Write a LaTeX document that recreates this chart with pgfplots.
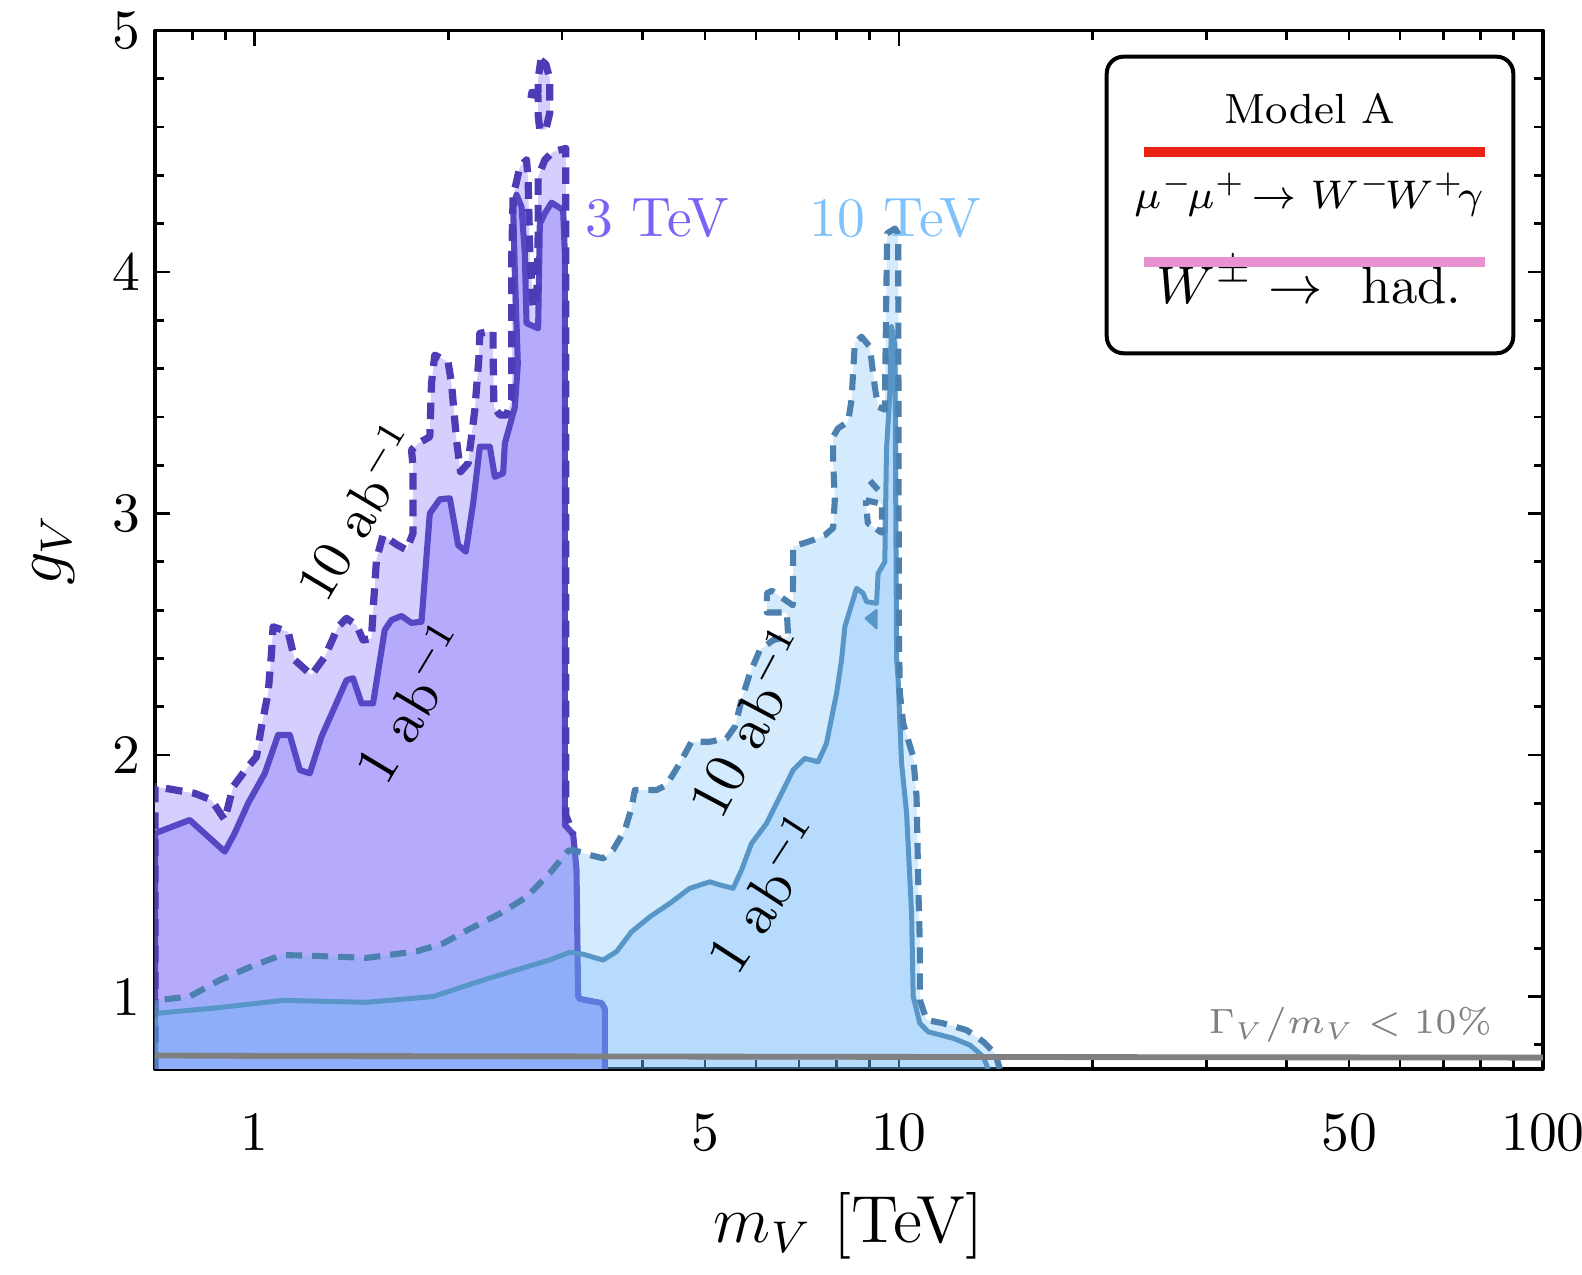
\RequirePackage{fix-cm}
\documentclass[border=0pt]{standalone}
\usepackage{pgfplots}
\pgfplotsset{compat=1.18}
\definecolor{purpfillL}{RGB}{214,207,253}
\definecolor{purpfillD}{RGB}{182,170,252}
\definecolor{purpline}{RGB}{86,72,196}
\definecolor{purpdash}{RGB}{76,60,182}
\definecolor{bluefill}{RGB}{102,180,248}
\definecolor{blueline}{RGB}{88,150,200}
\definecolor{bluedash}{RGB}{76,128,174}
\definecolor{tevpurple}{RGB}{120,100,245}
\definecolor{tevblue}{RGB}{128,195,252}
\definecolor{legred}{RGB}{235,35,20}
\definecolor{legpink}{RGB}{232,146,210}
\definecolor{greyline}{RGB}{128,128,128}
\begin{document}
\begin{tikzpicture}
\begin{axis}[
  scale only axis, width=249.84pt, height=186.93pt,
  xmode=log, xmin=0.7, xmax=100, ymin=0.7, ymax=5,
  xtick={1,10,100}, xticklabels={1,10,100},
  extra x ticks={5,50}, extra x tick labels={5,50},
  extra x tick style={major tick length=1.7pt},
  minor xtick={0.8,0.9,2,3,4,6,7,8,9,20,30,40,60,70,80,90},
  ytick={1,2,3,4,5}, yticklabels={1,2,3,4,5},
  minor ytick={0.8,1.2,1.4,1.6,1.8,2.2,2.4,2.6,2.8,3.2,3.4,3.6,3.8,4.2,4.4,4.6,4.8},
  tick align=inside,
  major tick length=2.7pt, minor tick length=1.7pt,
  every tick/.style={black, line width=0.5pt},
  axis line style={line width=0.6pt},
  tick label style={font=\fontsize{10}{12}\selectfont},
  xticklabel style={yshift=-4.5pt},
  yticklabel style={xshift=0.8pt},
  xlabel={$m_V$ [TeV]}, ylabel={$g_V$},
  xlabel style={at={(axis description cs:0.5,-0.151)}, anchor=center, font=\fontsize{12}{14}\selectfont},
  ylabel style={at={(axis description cs:-0.073,0.5)}, anchor=center, font=\fontsize{12}{14}\selectfont},
  line join=round,
]
\coordinate (SW) at (rel axis cs:0,0);
% ---- 3 TeV, 10 ab^-1 fill
\addplot[fill=purpfillL, draw=none] coordinates {
(0.7,0.7) (0.7,1.869) (0.7424,1.858) (0.8069,1.841) (0.8566,1.814) (0.8982,1.731) (0.9254,1.869) (0.9763,1.952) (1.0061,1.993) (1.0242,2.117) (1.0487,2.256) (1.0615,2.421) (1.0676,2.531) (1.1266,2.51) (1.1539,2.393) (1.2245,2.331) (1.2846,2.407) (1.3470,2.531) (1.3880,2.566) (1.4385,2.538) (1.4729,2.476) (1.5177,2.483) (1.5264,2.6) (1.5451,2.81) (1.5818,2.91) (1.6597,2.872) (1.7200,2.849) (1.7611,2.918) (1.7611,3.194) (1.7510,3.263) (1.7929,3.29) (1.8697,3.318) (1.8811,3.539) (1.9034,3.656) (1.9960,3.628) (2.0203,3.539) (2.0568,3.304) (2.0865,3.173) (2.1439,3.208) (2.1960,3.429) (2.2277,3.642) (2.2357,3.746) (2.3445,3.757) (2.3445,3.677) (2.3504,3.442) (2.4011,3.408) (2.4595,3.408) (2.5065,3.471) (2.5065,3.815) (2.5065,4.077) (2.5182,4.312) (2.5792,4.436) (2.6417,4.464) (2.6569,4.381) (2.6731,4.077) (2.7048,3.856) (2.7379,3.856) (2.7537,4.146) (2.7537,4.395) (2.8205,4.464) (2.9054,4.498) (3.0404,4.512) (3.0404,4.0) (3.0404,1.75) (3.1210,1.673) (3.1585,1.528) (3.1767,1.0) (3.1960,0.99) (3.4540,0.973) (3.4951,0.95) (3.4951,0.7)
} -- cycle;
\addplot[fill=purpfillL, draw=none] coordinates {
(2.7808,4.877) (2.8306,4.86) (2.8713,4.80) (2.8713,4.66) (2.8306,4.59) (2.7705,4.588) (2.7537,4.65) (2.7537,4.80)
} -- cycle;
% ---- 3 TeV, 1 ab^-1 fill
\addplot[fill=purpfillD, draw=none] coordinates {
(0.7,0.7) (0.7,1.676) (0.7926,1.731) (0.8982,1.600) (0.9310,1.677) (0.9763,1.80) (1.0364,1.924) (1.0869,2.083) (1.1334,2.083) (1.1746,1.938) (1.2173,1.924) (1.2693,2.076) (1.3311,2.2) (1.3880,2.31) (1.4211,2.318) (1.4645,2.214) (1.5264,2.214) (1.5915,2.518) (1.6301,2.559) (1.6894,2.576) (1.7510,2.547) (1.8150,2.552) (1.8697,3.0) (1.9377,3.059) (2.0082,3.063) (2.0688,2.87) (2.1265,2.842) (2.1828,3.042) (2.2357,3.277) (2.3170,3.277) (2.3588,3.152) (2.4298,3.166) (2.4446,3.29) (2.5335,3.44) (2.5609,3.62) (2.5335,4.0) (2.5182,4.27) (2.5490,4.32) (2.5949,4.27) (2.6257,4.077) (2.6417,3.788) (2.7537,3.767) (2.7705,4.2) (2.8205,4.243) (2.8888,4.287) (3.0113,4.257) (3.0296,4.077) (3.0296,1.71) (3.1210,1.673) (3.1585,1.528) (3.1767,1.0) (3.1960,0.99) (3.4540,0.973) (3.4951,0.95) (3.4951,0.7)
} -- cycle;
% ---- 3 TeV lines
\addplot[draw=purpline, line width=1.1pt] coordinates {
(0.7,0.7) (0.7,1.676) (0.7926,1.731) (0.8982,1.600) (0.9310,1.677) (0.9763,1.80) (1.0364,1.924) (1.0869,2.083) (1.1334,2.083) (1.1746,1.938) (1.2173,1.924) (1.2693,2.076) (1.3311,2.2) (1.3880,2.31) (1.4211,2.318) (1.4645,2.214) (1.5264,2.214) (1.5915,2.518) (1.6301,2.559) (1.6894,2.576) (1.7510,2.547) (1.8150,2.552) (1.8697,3.0) (1.9377,3.059) (2.0082,3.063) (2.0688,2.87) (2.1265,2.842) (2.1828,3.042) (2.2357,3.277) (2.3170,3.277) (2.3588,3.152) (2.4298,3.166) (2.4446,3.29) (2.5335,3.44) (2.5609,3.62) (2.5335,4.0) (2.5182,4.27) (2.5490,4.32) (2.5949,4.27) (2.6257,4.077) (2.6417,3.788) (2.7537,3.767) (2.7705,4.2) (2.8205,4.243) (2.8888,4.287) (3.0113,4.257) (3.0296,4.077) (3.0296,1.71) (3.1210,1.673) (3.1585,1.528) (3.1767,1.0) (3.1960,0.99) (3.4540,0.973) (3.4951,0.95) (3.4951,0.7)
};
\addplot[draw=purpdash, line width=1.3pt, dash pattern=on 3pt off 1.8pt] coordinates {
(0.7,0.7) (0.7,1.869) (0.7424,1.858) (0.8069,1.841) (0.8566,1.814) (0.8982,1.731) (0.9254,1.869) (0.9763,1.952) (1.0061,1.993) (1.0242,2.117) (1.0487,2.256) (1.0615,2.421) (1.0676,2.531) (1.1266,2.51) (1.1539,2.393) (1.2245,2.331) (1.2846,2.407) (1.3470,2.531) (1.3880,2.566) (1.4385,2.538) (1.4729,2.476) (1.5177,2.483) (1.5264,2.6) (1.5451,2.81) (1.5818,2.91) (1.6597,2.872) (1.7200,2.849) (1.7611,2.918) (1.7611,3.194) (1.7510,3.263) (1.7929,3.29) (1.8697,3.318) (1.8811,3.539) (1.9034,3.656) (1.9960,3.628) (2.0203,3.539) (2.0568,3.304) (2.0865,3.173) (2.1439,3.208) (2.1960,3.429) (2.2277,3.642) (2.2357,3.746) (2.3445,3.757) (2.3445,3.677) (2.3504,3.442) (2.4011,3.408) (2.4595,3.408) (2.5065,3.471) (2.5065,3.815) (2.5065,4.077) (2.5182,4.312) (2.5792,4.436) (2.6417,4.464) (2.6569,4.381) (2.6731,4.077) (2.7048,3.856) (2.7379,3.856) (2.7537,4.146) (2.7537,4.395) (2.8205,4.464) (2.9054,4.498) (3.0404,4.512) (3.0404,4.0) (3.0404,1.75) (3.1210,1.673)
};
\addplot[draw=purpdash, line width=1.3pt, dash pattern=on 3pt off 1.8pt] coordinates {
(2.7808,4.877) (2.8306,4.86) (2.8713,4.80) (2.8713,4.66) (2.8306,4.59) (2.7705,4.588) (2.7537,4.65) (2.7537,4.73) (2.6163,4.74) (2.7537,4.745) (2.7537,4.80) (2.7808,4.877)
};
% ---- 10 TeV fills
\addplot[fill=bluefill, fill opacity=0.28, draw=none] coordinates {
(0.7,0.7) (0.7,0.984) (0.7926,1.0) (0.8825,1.068) (0.9823,1.122) (1.1002,1.172) (1.2468,1.168) (1.4910,1.16) (1.7828,1.187) (1.9607,1.22) (2.1571,1.28) (2.4011,1.343) (2.6417,1.412) (2.8713,1.511) (3.0655,1.603) (3.1210,1.607) (3.3133,1.586) (3.4741,1.572) (3.6005,1.607) (3.7543,1.689) (3.8452,1.779) (3.8909,1.855) (4.2048,1.855) (4.3577,1.876) (4.5697,1.966) (4.7647,2.055) (5.0874,2.055) (5.4006,2.069) (5.5632,2.117) (5.6982,2.228) (5.8696,2.338) (6.0833,2.435) (6.3798,2.476) (6.7312,2.49) (6.7000,2.59) (6.2386,2.59) (6.2386,2.67) (6.3504,2.68) (6.8452,2.62) (6.852,2.863) (7.3593,2.89) (7.6737,2.91) (7.9051,2.94) (7.9533,3.056) (7.9051,3.22) (7.9051,3.318) (8.0478,3.353) (8.3404,3.38) (8.4424,3.47) (8.5425,3.705) (8.7494,3.732) (9.0131,3.69) (9.1756,3.525) (9.2846,3.442) (9.5094,3.43) (9.5879,4.16) (9.8578,4.18) (9.9750,4.159) (10.0,2.5) (10.036,2.256) (10.155,2.131) (10.525,1.993) (10.653,1.827) (10.715,1.482) (10.780,1.206) (10.780,0.986) (11.040,0.903) (11.717,0.889) (12.742,0.861) (13.520,0.813) (14.097,0.765) (14.351,0.7)
} -- cycle;
\addplot[fill=bluefill, fill opacity=0.28, draw=none] coordinates {
(0.7,0.7) (0.7,0.93) (0.8720,0.953) (1.1065,0.984) (1.4910,0.976) (1.8919,1.0) (2.2622,1.068) (2.8713,1.152) (3.0842,1.183) (3.2343,1.175) (3.4741,1.151) (3.6446,1.186) (3.8452,1.268) (4.1051,1.33) (4.4097,1.386) (4.7358,1.448) (5.0874,1.475) (5.2727,1.462) (5.5295,1.448) (5.6982,1.524) (5.9054,1.634) (6.2320,1.717) (6.5347,1.827) (6.852,1.938) (7.1449,1.986) (7.4920,1.972) (7.7205,2.048) (7.8602,2.152) (8.0023,2.255) (8.1466,2.393) (8.2433,2.531) (8.5944,2.69) (8.8000,2.67) (8.9075,2.635) (9.2315,2.628) (9.2846,2.752) (9.5094,2.8) (9.5663,3.263) (9.6797,3.497) (9.7387,3.774) (9.8578,3.7) (9.9182,2.4) (9.975,2.31) (10.036,2.131) (10.097,1.966) (10.279,1.759) (10.465,1.344) (10.525,1.0) (10.780,0.889) (11.104,0.854) (12.145,0.827) (12.893,0.799) (13.520,0.751) (13.763,0.7)
} -- cycle;
% ---- 10 TeV lines
\addplot[draw=blueline, line width=0.9pt] coordinates {
(0.7,0.7) (0.7,0.93) (0.8720,0.953) (1.1065,0.984) (1.4910,0.976) (1.8919,1.0) (2.2622,1.068) (2.8713,1.152) (3.0842,1.183) (3.2343,1.175) (3.4741,1.151) (3.6446,1.186) (3.8452,1.268) (4.1051,1.33) (4.4097,1.386) (4.7358,1.448) (5.0874,1.475) (5.2727,1.462) (5.5295,1.448) (5.6982,1.524) (5.9054,1.634) (6.2320,1.717) (6.5347,1.827) (6.852,1.938) (7.1449,1.986) (7.4920,1.972) (7.7205,2.048) (7.8602,2.152) (8.0023,2.255) (8.1466,2.393) (8.2433,2.531) (8.5944,2.69) (8.8000,2.67) (8.9075,2.635) (9.2315,2.628) (9.2846,2.752) (9.5094,2.8) (9.5663,3.263) (9.6797,3.497) (9.7387,3.774) (9.8578,3.7) (9.9182,2.4) (9.975,2.31) (10.036,2.131) (10.097,1.966) (10.279,1.759) (10.465,1.344) (10.525,1.0) (10.780,0.889) (11.104,0.854) (12.145,0.827) (12.893,0.799) (13.520,0.751) (13.763,0.7)
};
\addplot[fill=blueline, draw=blueline, line width=0.4pt] coordinates {(8.884,2.566) (9.2315,2.6) (9.2315,2.525)} -- cycle;
\addplot[draw=bluedash, line width=1.1pt, dash pattern=on 2.9pt off 1.8pt] coordinates {
(0.7,0.7) (0.7,0.984) (0.7926,1.0) (0.8825,1.068) (0.9823,1.122) (1.1002,1.172) (1.2468,1.168) (1.4910,1.16) (1.7828,1.187) (1.9607,1.22) (2.1571,1.28) (2.4011,1.343) (2.6417,1.412) (2.8713,1.511) (3.0655,1.603) (3.1210,1.607) (3.3133,1.586) (3.4741,1.572) (3.6005,1.607) (3.7543,1.689) (3.8452,1.779) (3.8909,1.855) (4.2048,1.855) (4.3577,1.876) (4.5697,1.966) (4.7647,2.055) (5.0874,2.055) (5.4006,2.069) (5.5632,2.117) (5.6982,2.228) (5.8696,2.338) (6.0833,2.435) (6.3798,2.476) (6.7312,2.49) (6.7000,2.59) (6.2386,2.59) (6.2386,2.67) (6.3504,2.68) (6.8452,2.62) (6.852,2.863) (7.3593,2.89) (7.6737,2.91) (7.9051,2.94) (7.9533,3.056) (7.9051,3.22) (7.9051,3.318) (8.0478,3.353) (8.3404,3.38) (8.4424,3.47) (8.5425,3.705) (8.7494,3.732) (9.0131,3.69) (9.1756,3.525) (9.2846,3.442) (9.5094,3.43) (9.5879,4.16) (9.8578,4.18) (9.9750,4.159) (10.0,2.5) (10.036,2.256) (10.155,2.131) (10.525,1.993) (10.653,1.827) (10.715,1.482) (10.780,1.206) (10.780,0.986) (11.040,0.903) (11.717,0.889) (12.742,0.861) (13.520,0.813) (14.097,0.765) (14.351,0.7)
};
\addplot[fill=white, draw=bluedash, line width=1.1pt, dash pattern=on 2.2pt off 1.4pt] coordinates {(8.884,3.055) (9.411,3.04) (9.411,2.92) (8.948,2.96)} -- cycle;
\addplot[draw=bluedash, line width=1.1pt, dash pattern=on 2.2pt off 1.4pt] coordinates {(9.02,3.135) (9.343,3.09)};
% ---- width line
\addplot[draw=greyline, line width=1.05pt] coordinates {(0.7,0.756) (1,0.754) (10,0.75) (100,0.747)};
% ---- annotations
\node[anchor=base west, inner sep=0pt, text=tevpurple, font=\fontsize{10}{12}\selectfont] at (axis cs:3.248,4.145) {3 TeV};
\node[anchor=base west, inner sep=0pt, text=tevblue, font=\fontsize{10}{12}\selectfont] at (axis cs:7.247,4.145) {10 TeV};
\node[anchor=center, rotate=59, font=\fontsize{10}{12}\selectfont] at (axis cs:1.44,3.01) {10 ab$^{-1}$};
\node[anchor=center, rotate=59, font=\fontsize{10.5}{12}\selectfont] at (axis cs:1.75,2.22) {1 ab$^{-1}$};
\node[anchor=center, rotate=62, font=\fontsize{10.5}{12}\selectfont] at (axis cs:5.85,2.14) {10 ab$^{-1}$};
\node[anchor=center, rotate=57, font=\fontsize{10.5}{12}\selectfont] at (axis cs:6.193,1.43) {1 ab$^{-1}$};
\node[anchor=base east, inner sep=0pt, scale=0.915, text=greyline, font=\fontsize{6.9}{8}\selectfont] at (axis cs:83.6,0.848) {$\Gamma_V/m_V < 10\%$};
% ---- legend box
\draw[line width=0.72pt, rounded corners=3pt, fill=white] (rel axis cs:0.6857,0.6892) rectangle (rel axis cs:0.9786,0.9748);
\node[anchor=base, font=\fontsize{7.6}{9}\selectfont] at (rel axis cs:0.832,0.9107) {Model A};
\draw[line width=1.8pt, legred] (rel axis cs:0.7128,0.8827) -- (rel axis cs:0.9582,0.8827);
\node[anchor=base, font=\fontsize{7.2}{9}\selectfont] at (rel axis cs:0.8314,0.8288) {$\mu^-\!\mu^+\!\to W^-\!W^+\!\gamma$};
\node[anchor=base, font=\fontsize{9.5}{11}\selectfont] at (rel axis cs:0.8314,0.7373) {$W^\pm\to$\hspace{7pt}had.};
\draw[line width=1.8pt, legpink] (rel axis cs:0.7128,0.7768) -- (rel axis cs:0.9582,0.7768);
\end{axis}
\pgfresetboundingbox
\useasboundingbox ([shift={(-27.9pt,-37.08pt)}]SW) rectangle ([shift={(256.86pt,192.42pt)}]SW);
\end{tikzpicture}
\end{document}
